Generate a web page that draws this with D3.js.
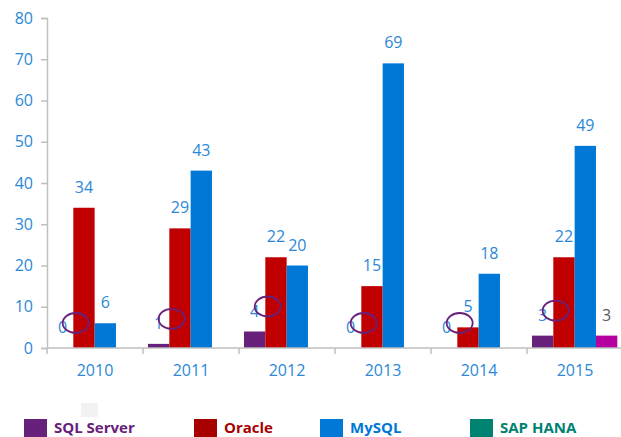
<!DOCTYPE html>
<html>
<head>
<meta charset="utf-8">
<script src="https://cdn.jsdelivr.net/npm/d3@7"></script>
<style>
    body { margin: 0; background: #fff; }
    svg { display: block; font-family: "Open Sans", "Noto Sans", sans-serif; }
</style>
</head>
<body>
<div id="mainDiv"></div>
<script>
var years = [ '2010', '2011', '2012', '2013', '2014', '2015' ];
var seriesNames = [ 'SQL Server', 'Oracle', 'MySQL', 'SAP HANA' ];
var sqlServer = [ 0, 1, 4, 0, 0, 3 ];
var oracle = [ 34, 29, 22, 15, 5, 22 ];
var mySql = [ 6, 43, 20, 69, 18, 49 ];
var sapHana = [ null, null, null, null, null, 3 ];
var yTicks = [ 0, 10, 20, 30, 40, 50, 60, 70, 80 ];
// years whose SQL Server label got circled in the original
var circled = [ '2010', '2011', '2012', '2013', '2014', '2015' ];

var Chart = Chart || {};

Chart.main = function () {
    var _width = 621, _height = 437,
        _left = 47, _zeroY = 348, _topY = 18,
        _barColors = [ '#68217A', '#C00000', '#0078D7', '#B4009E' ],
        _legendColors = [ '#68217A', '#A80000', '#0078D7', '#008272' ],
        _legendX = [ 24, 194, 320, 470 ],
        _labelColor = '#2B88D8',
        _values = [ sqlServer, oracle, mySql, sapHana ],
        _svg, _x0, _x1, _y, _groups;

    _svg = d3.select( '#mainDiv' )
        .append( 'svg' )
        .attr( 'width', _width )
        .attr( 'height', _height );

    _x0 = d3.scaleBand().domain( years ).range( [ _left, _left + 576 ] );
    _x1 = d3.scaleBand().domain( seriesNames ).range( [ 5, 5 + 85.3 ] );
    _y = d3.scaleLinear().domain( [ 0, 80 ] ).range( [ _zeroY, _topY ] );

    // y axis
    var yAxis = _svg.append( 'g' )
        .attr( 'transform', 'translate(' + _left + ',0)' )
        .call( d3.axisLeft( _y ).tickValues( yTicks ).tickSize( 6 ).tickPadding( 8 ) );
    yAxis.select( '.domain' ).attr( 'stroke', '#BFBFBF' ).attr( 'stroke-width', 1.5 );
    yAxis.selectAll( '.tick line' ).attr( 'stroke', '#BFBFBF' ).attr( 'stroke-width', 1.5 );
    yAxis.selectAll( '.tick text' )
        .attr( 'fill', _labelColor )
        .style( 'font-size', '16px' )
        .style( 'font-family', '"Open Sans", sans-serif' );

    // bars
    _groups = _svg.selectAll( 'g.year' )
        .data( years )
        .enter()
        .append( 'g' )
        .attr( 'class', 'year' )
        .attr( 'transform', function ( d ) { return 'translate(' + _x0( d ) + ',0)'; } );

    seriesNames.forEach( function ( name, si ) {
        _groups.append( 'rect' )
            .filter( function ( d, i ) { return _values[ si ][ i ] !== null; } )
            .attr( 'x', _x1( name ) )
            .attr( 'width', _x1.bandwidth() )
            .attr( 'y', function ( d ) { return _y( _values[ si ][ years.indexOf( d ) ] ); } )
            .attr( 'height', function ( d ) { return _zeroY - _y( _values[ si ][ years.indexOf( d ) ] ); } )
            .attr( 'fill', _barColors[ si ] );
        _groups.selectAll( 'rect' ).filter( function () { return !this.getAttribute( 'y' ); } ).remove();

        _groups.append( 'text' )
            .filter( function ( d, i ) { return _values[ si ][ i ] !== null; } )
            .attr( 'x', _x1( name ) + _x1.bandwidth() / 2 )
            .attr( 'y', function ( d ) { return _y( _values[ si ][ years.indexOf( d ) ] ) - 15; } )
            .attr( 'text-anchor', 'middle' )
            .attr( 'fill', si === 3 ? '#595959' : _labelColor )
            .style( 'font-size', '16px' )
            .text( function ( d ) { return _values[ si ][ years.indexOf( d ) ]; } );
        _groups.selectAll( 'text' ).filter( function () { return !this.getAttribute( 'y' ); } ).remove();
    } );

    // circles drawn over the SQL Server labels
    _groups.filter( function ( d ) { return circled.indexOf( d ) >= 0; } )
        .append( 'ellipse' )
        .attr( 'cx', _x1( 'SQL Server' ) + _x1.bandwidth() / 2 + 13 )
        .attr( 'cy', function ( d ) { return _y( sqlServer[ years.indexOf( d ) ] ) - 25; } )
        .attr( 'rx', 13 )
        .attr( 'ry', 10 )
        .attr( 'fill', 'none' )
        .attr( 'stroke', '#68217A' )
        .attr( 'stroke-width', 1.8 );

    // x axis
    var xAxis = _svg.append( 'g' )
        .attr( 'transform', 'translate(0,' + _zeroY + ')' );
    xAxis.append( 'line' )
        .attr( 'x1', _left ).attr( 'x2', _width )
        .attr( 'stroke', '#BFBFBF' ).attr( 'stroke-width', 1.5 );
    xAxis.selectAll( 'line.tk' )
        .data( years )
        .enter()
        .append( 'line' )
        .attr( 'class', 'tk' )
        .attr( 'x1', function ( d ) { return _x0( d ); } )
        .attr( 'x2', function ( d ) { return _x0( d ); } )
        .attr( 'y1', 0 ).attr( 'y2', 6 )
        .attr( 'stroke', '#BFBFBF' ).attr( 'stroke-width', 1.5 );
    xAxis.selectAll( 'text' )
        .data( years )
        .enter()
        .append( 'text' )
        .attr( 'x', function ( d ) { return _x0( d ) + _x0.bandwidth() / 2; } )
        .attr( 'y', 28 )
        .attr( 'text-anchor', 'middle' )
        .attr( 'fill', _labelColor )
        .style( 'font-size', '16px' )
        .text( function ( d ) { return d; } );

    // legend
    _svg.append( 'rect' )
        .attr( 'x', 81 ).attr( 'y', 403 )
        .attr( 'width', 17 ).attr( 'height', 14 )
        .attr( 'fill', '#F2F2F2' );

    var legend = _svg.selectAll( 'g.legend' )
        .data( seriesNames )
        .enter()
        .append( 'g' )
        .attr( 'class', 'legend' )
        .attr( 'transform', function ( d, i ) { return 'translate(' + _legendX[ i ] + ',419)'; } );
    legend.append( 'rect' )
        .attr( 'width', 23 ).attr( 'height', 20 )
        .attr( 'fill', function ( d, i ) { return _legendColors[ i ]; } );
    legend.append( 'text' )
        .attr( 'x', 30 )
        .attr( 'y', 14 )
        .attr( 'fill', function ( d, i ) { return _legendColors[ i ]; } )
        .style( 'font-size', '15px' )
        .style( 'font-weight', 'bold' )
        .text( function ( d ) { return d; } );
}();
</script>
</body>
</html>
